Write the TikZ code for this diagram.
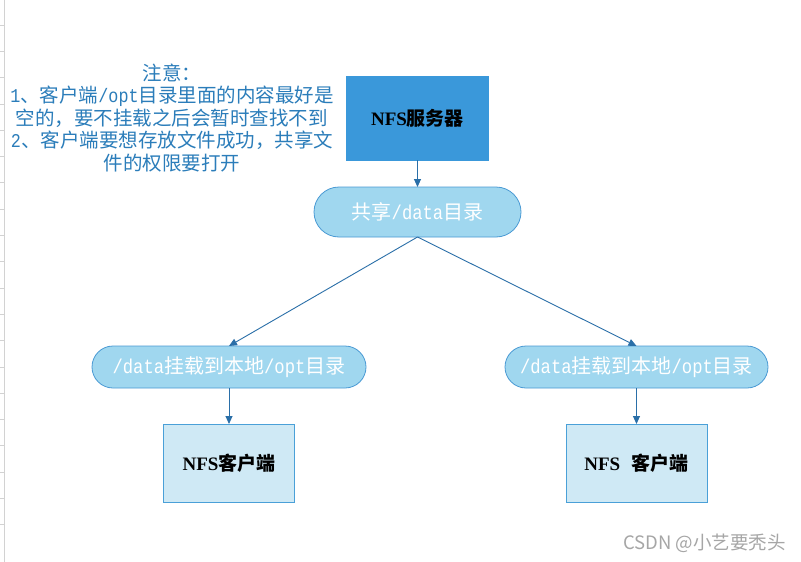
\documentclass[tikz,border=0pt]{standalone}
\usepackage{fontspec}
\setmainfont{Liberation Serif}
\newfontfamily\cjk{Noto Sans CJK SC}
\newfontfamily\wmfont{Noto Sans CJK SC}
\newfontfamily\latmono[FakeStretch=0.86]{Liberation Mono}
\newcommand\mytt[1]{{\latmono #1}}
\usetikzlibrary{arrows.meta}
\definecolor{notecol}{HTML}{2B7DBA}
\definecolor{srvfill}{HTML}{3A98DA}
\definecolor{pillfill}{HTML}{A0D7EF}
\definecolor{pillline}{HTML}{4A9AD4}
\definecolor{clifill}{HTML}{CFE9F5}
\definecolor{cliline}{HTML}{4AA0D8}
\definecolor{arrcol}{HTML}{2A6FA8}
\tikzset{
  srvbox/.style={draw=srvfill, fill=srvfill, inner sep=0pt, outer sep=0pt, font=\fontsize{19}{21}\selectfont, text=black},
  pillbox/.style={draw=pillline, fill=pillfill, line width=0.8pt, inner sep=0pt, outer sep=0pt, text=white, font=\cjk\fontsize{20}{22}\selectfont},
  clibox/.style={draw=cliline, fill=clifill, line width=0.8pt, inner sep=0pt, outer sep=0pt, font=\fontsize{19}{21}\selectfont, text=black},
  conn/.style={draw=arrcol, line width=0.9pt, -{Triangle[length=8pt,width=7pt]}},
  notetext/.style={align=center, text=notecol, inner sep=0pt, font=\cjk\fontsize{19.5}{22.5}\selectfont},
}
\begin{document}
\begin{tikzpicture}[x=1pt,y=-1pt]
\useasboundingbox (0,0) rectangle (801,562);
\fill[white] (0,0) rectangle (801,562);
% left ruler
\draw[gray!35, line width=1pt] (4.5,0) -- (4.5,562);
\foreach \k in {0,...,19} {
  \draw[gray!35, line width=0.8pt] (0,{25+26.3*\k}) -- (4.5,{25+26.3*\k});
}
% note
\node[notetext] (note) at (172,118) {注意：\\\mytt{1}、客户端\mytt{/opt}目录里面的内容最好是\\空的，要不挂载之后会暂时查找不到\\\mytt{2}、客户端要想存放文件成功，共享文\\件的权限要打开};
% nodes
\node[srvbox, minimum width=142pt, minimum height=84pt] (server) at (417.5,118) {\textbf{NFS}{\cjk\bfseries 服务器}};
\node[pillbox, minimum width=207pt, minimum height=50pt, rounded corners=25pt] (share) at (417.5,212) {共享\mytt{/data}目录};
\node[pillbox, minimum width=274pt, minimum height=42pt, rounded corners=21pt] (lpill) at (229,367) {\mytt{/data}挂载到本地\mytt{/opt}目录};
\node[pillbox, minimum width=263pt, minimum height=42pt, rounded corners=21pt] (rpill) at (636.5,367) {\mytt{/data}挂载到本地\mytt{/opt}目录};
\node[clibox, minimum width=131pt, minimum height=78pt] (lclient) at (229,463) {\textbf{NFS}{\cjk\bfseries 客户端}};
\node[clibox, minimum width=141pt, minimum height=78pt] (rclient) at (636.5,463) {\textbf{NFS}\hspace{0.6em}{\cjk\bfseries 客户端}};
% connectors
\draw[conn] (server.south) -- (share.north);
\draw[conn] (share.south) -- (lpill.north);
\draw[conn] (share.south) -- (rpill.north);
\draw[conn] (lpill.south) -- (lclient.north);
\draw[conn] (rpill.south) -- (rclient.north);
% watermark
\node[text=gray!70, inner sep=0pt, anchor=east, font=\wmfont\fontsize{18.5}{20}\selectfont] (wm) at (786,543) {CSDN @小艺要秃头};
\end{tikzpicture}
\end{document}
